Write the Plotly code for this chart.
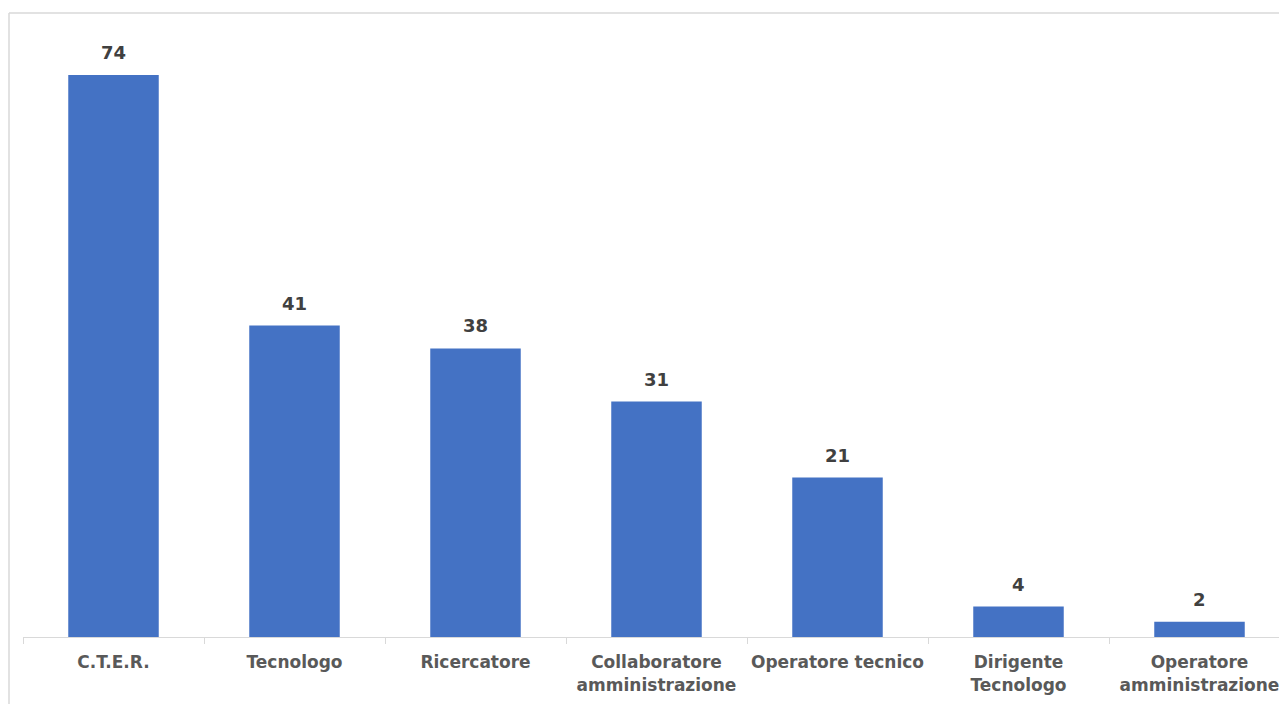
import plotly.graph_objects as go

categories = ["C.T.E.R.", "Tecnologo", "Ricercatore", "Collaboratore<br>amministrazione",
              "Operatore tecnico", "Dirigente<br>Tecnologo", "Operatore<br>amministrazione"]
values = [74, 41, 38, 31, 21, 4, 2]

BAR = "#4472C4"
GRID = "#d9d9d9"
FONT = "DejaVu Sans"

L, R, T, B = 15, 5, 5, 75
W, H = 1287, 704
PW = W - L - R
PH = H - T - B

fig = go.Figure()
fig.add_trace(go.Bar(x=categories, y=values, marker=dict(color=BAR, line=dict(width=0)),
                     hoverinfo="x+y"))

for c, v in zip(categories, values):
    fig.add_annotation(x=c, y=v, text=str(v), showarrow=False, yanchor="bottom",
                       yshift=10, font=dict(family=FONT, size=18, color="#404040", weight="bold"))

bx = -14 / PW
fig.update_layout(
    width=W, height=H,
    margin=dict(l=L, r=R, t=T, b=B, autoexpand=False),
    paper_bgcolor="white", plot_bgcolor="white",
    bargap=0.5, showlegend=False,
    font=dict(family=FONT),
    xaxis=dict(type="category", showline=True, linecolor=GRID, linewidth=1,
               ticks="outside", tickson="boundaries", ticklen=6, tickcolor=GRID,
               tickangle=0, automargin=False,
               tickfont=dict(family=FONT, size=17, color="#595959", weight="bold"),
               ticklabelstandoff=10, showgrid=False, zeroline=False),
    yaxis=dict(range=[0, 82.16], visible=False, showgrid=False, zeroline=False,
               automargin=False),
    shapes=[
        dict(type="line", xref="paper", yref="paper", x0=bx, x1=1.02, y0=1, y1=1,
             line=dict(color=GRID, width=1.5)),
        dict(type="line", xref="paper", yref="paper", x0=bx, x1=bx, y0=1, y1=-0.2,
             line=dict(color=GRID, width=1.5)),
    ],
)

fig.write_html("out.html")
